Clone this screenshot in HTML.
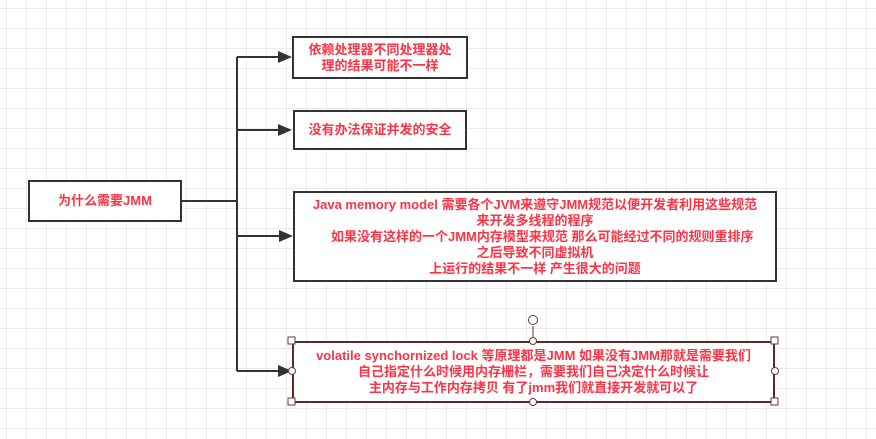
<!DOCTYPE html>
<html><head><meta charset="utf-8"><style>
body{margin:0;width:876px;height:439px;overflow:hidden;background-color:#fff;
background-image:linear-gradient(#ebebeb 1px,transparent 1px),linear-gradient(90deg,#ebebeb 1px,transparent 1px);
background-size:20px 20px;background-position:6px 8px;font-family:"Liberation Sans","Noto Sans CJK SC",sans-serif;}
.b{position:absolute;box-sizing:border-box;border:2px solid #333;background:#fff;color:#ff3344;font-weight:bold;font-size:13px;line-height:16px;text-align:center;display:flex;align-items:center;justify-content:center;}
</style></head><body>
<svg width="876" height="439" style="position:absolute;left:0;top:0">
<g stroke="#333" stroke-width="2" fill="none">
<path d="M181 201H237M237 57V371M237 57H280M237 130H280M237 236H280M237 371H280"/>
</g>
<g fill="#333">
<path d="M292 57l-14-6v12z"/><path d="M292 130l-14-6v12z"/><path d="M293 236l-14-6v12z"/><path d="M292 371l-14-6v12z"/>
</g>
</svg>
<div class="b" style="left:28px;top:180px;width:154px;height:42px">为什么需要JMM</div>
<div class="b" style="left:292px;top:36px;width:176px;height:43px">依赖处理器不同处理器处<br>理的结果可能不一样</div>
<div class="b" style="left:293px;top:110px;width:174px;height:40px">没有办法保证并发的安全</div>
<div class="b" style="left:293px;top:191px;width:484px;height:91px">Java memory model 需要各个JVM来遵守JMM规范以便开发者利用这些规范<br>来开发多线程的程序<br>&nbsp;&nbsp;&nbsp;&nbsp;如果没有这样的一个JMM内存模型来规范 那么可能经过不同的规则重排序<br>之后导致不同虚拟机<br>上运行的结果不一样 产生很大的问题</div>
<div class="b" style="left:292px;top:341px;width:483px;height:62px;border-color:#5a2a2a">volatile synchornized lock 等原理都是JMM 如果没有JMM那就是需要我们<br>自己指定什么时候用内存栅栏，需要我们自己决定什么时候让<br>主内存与工作内存拷贝 有了jmm我们就直接开发就可以了</div>
<svg width="876" height="439" style="position:absolute;left:0;top:0">
<g stroke="#6a3a3a" fill="#fff" stroke-width="1">
<path d="M533 326V341"/>
<circle cx="533" cy="320" r="4.5"/>
<rect x="288" y="337" width="7" height="7"/><rect x="771" y="337" width="7" height="7"/>
<rect x="288" y="398" width="7" height="7"/><rect x="771" y="398" width="7" height="7"/>
<circle cx="533" cy="341" r="3.5"/><circle cx="533" cy="402" r="3.5"/>
<circle cx="292" cy="371" r="3.5"/><circle cx="775" cy="371" r="3.5"/>
</g></svg>
</body></html>
